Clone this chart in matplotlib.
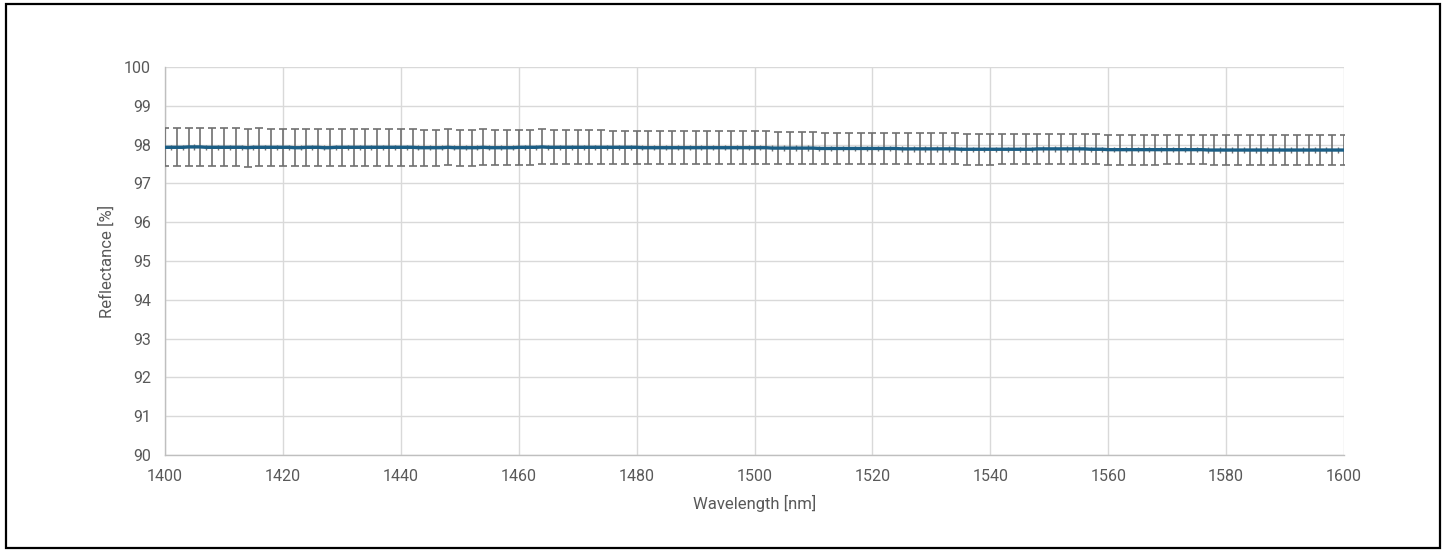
import matplotlib
matplotlib.use("Agg")
import matplotlib.pyplot as plt
from matplotlib.patches import Rectangle

plt.rcParams["font.family"] = ["Roboto", "DejaVu Sans"]

# Main points every 2 nm with error bars
wl_even = list(range(1400, 1601, 2))
refl_even = [
    97.93, 97.93, 97.94, 97.94, 97.93, 97.93, 97.93, 97.92, 97.93, 97.93,
    97.93, 97.92, 97.93, 97.93, 97.92, 97.93, 97.93, 97.93, 97.93, 97.93,
    97.93, 97.93, 97.92, 97.92, 97.93, 97.92, 97.92, 97.93, 97.92, 97.92,
    97.93, 97.93, 97.94, 97.93, 97.93, 97.93, 97.93, 97.93, 97.93, 97.93,
    97.93, 97.92, 97.92, 97.92, 97.92, 97.92, 97.92, 97.92, 97.92, 97.92,
    97.92, 97.92, 97.91, 97.91, 97.91, 97.91, 97.90, 97.90, 97.90, 97.90,
    97.90, 97.90, 97.90, 97.89, 97.89, 97.89, 97.89, 97.89, 97.88, 97.88,
    97.88, 97.88, 97.88, 97.88, 97.89, 97.89, 97.89, 97.89, 97.89, 97.88,
    97.87, 97.87, 97.87, 97.87, 97.87, 97.87, 97.87, 97.87, 97.87, 97.86,
    97.86, 97.86, 97.86, 97.86, 97.86, 97.86, 97.86, 97.86, 97.86, 97.86,
    97.86,
]
err_even = [
    0.49, 0.49, 0.49, 0.49, 0.49, 0.49, 0.49, 0.49, 0.49, 0.48,
    0.48, 0.48, 0.48, 0.48, 0.48, 0.48, 0.47, 0.47, 0.47, 0.47,
    0.47, 0.47, 0.46, 0.46, 0.46, 0.46, 0.46, 0.46, 0.45, 0.45,
    0.45, 0.45, 0.45, 0.44, 0.44, 0.44, 0.44, 0.44, 0.43, 0.43,
    0.43, 0.43, 0.43, 0.43, 0.42, 0.42, 0.42, 0.42, 0.42, 0.42,
    0.42, 0.42, 0.41, 0.41, 0.41, 0.41, 0.41, 0.41, 0.41, 0.40,
    0.40, 0.40, 0.40, 0.40, 0.40, 0.40, 0.40, 0.40, 0.40, 0.40,
    0.40, 0.39, 0.39, 0.39, 0.39, 0.39, 0.39, 0.39, 0.39, 0.39,
    0.39, 0.39, 0.39, 0.39, 0.39, 0.38, 0.38, 0.38, 0.38, 0.38,
    0.38, 0.38, 0.38, 0.38, 0.38, 0.38, 0.38, 0.38, 0.38, 0.38,
    0.38,
]

# Intermediate points (odd nm) with small error marks
wl_odd = list(range(1401, 1600, 2))
refl_odd = [
    97.93, 97.93, 97.94, 97.93, 97.93, 97.93, 97.93, 97.93, 97.93, 97.93,
    97.93, 97.92, 97.93, 97.92, 97.93, 97.93, 97.93, 97.93, 97.93, 97.93,
    97.93, 97.92, 97.92, 97.92, 97.92, 97.92, 97.92, 97.92, 97.92, 97.92,
    97.93, 97.93, 97.93, 97.93, 97.93, 97.93, 97.93, 97.93, 97.93, 97.93,
    97.92, 97.92, 97.92, 97.92, 97.92, 97.92, 97.92, 97.92, 97.92, 97.92,
    97.92, 97.91, 97.91, 97.91, 97.91, 97.90, 97.90, 97.90, 97.90, 97.90,
    97.90, 97.90, 97.89, 97.89, 97.89, 97.89, 97.89, 97.88, 97.88, 97.88,
    97.88, 97.88, 97.88, 97.88, 97.89, 97.89, 97.89, 97.89, 97.88, 97.88,
    97.87, 97.87, 97.87, 97.87, 97.87, 97.87, 97.87, 97.87, 97.86, 97.86,
    97.86, 97.86, 97.86, 97.86, 97.86, 97.86, 97.86, 97.86, 97.86, 97.86,
]
err_odd = [0.07] * len(wl_odd)

x_ticks = list(range(1400, 1601, 20))
y_ticks = list(range(90, 101, 1))

fig = plt.figure(figsize=(14.47, 5.52), dpi=100)
fig.patch.set_facecolor("white")
ax = fig.add_axes([165 / 1447, 1 - 455 / 552, (1344 - 165) / 1447, (455 - 67) / 552])

# combined line through all points
pts = sorted(zip(wl_even + wl_odd, refl_even + refl_odd))
ax.plot([p[0] for p in pts], [p[1] for p in pts], color="#1b5e85", lw=2.4, zorder=4)

ax.errorbar(wl_even, refl_even, yerr=err_even, fmt="none", ecolor="#6f6f6f",
            elinewidth=1.2, capsize=3.2, capthick=1.2, zorder=3)
ax.errorbar(wl_odd, refl_odd, yerr=err_odd, fmt="none", ecolor="#6f6f6f",
            elinewidth=1.0, capsize=0, zorder=3)

ax.set_xlim(1400, 1600)
ax.set_ylim(90, 100)
ax.set_xticks(x_ticks)
ax.set_yticks(y_ticks)
ax.grid(True, color="#d9d9d9", lw=1.0, zorder=0)
ax.set_axisbelow(True)
for s in ["top", "right"]:
    ax.spines[s].set_visible(False)
for s in ["left", "bottom"]:
    ax.spines[s].set_color("#bfbfbf")
    ax.spines[s].set_linewidth(1.0)
ax.tick_params(length=0, labelsize=11.5, labelcolor="#595959", pad=10)
ax.set_xlabel("Wavelength [nm]", fontsize=12, color="#595959", labelpad=8)
ax.set_ylabel("Reflectance [%]", fontsize=12, color="#595959", labelpad=7)

fig.add_artist(Rectangle((6 / 1447, 4 / 552), (1440 - 6) / 1447, (548 - 4) / 552,
                         transform=fig.transFigure, fill=False, edgecolor="black", lw=1.6))

fig.savefig("out.png", dpi=100, facecolor="white")
